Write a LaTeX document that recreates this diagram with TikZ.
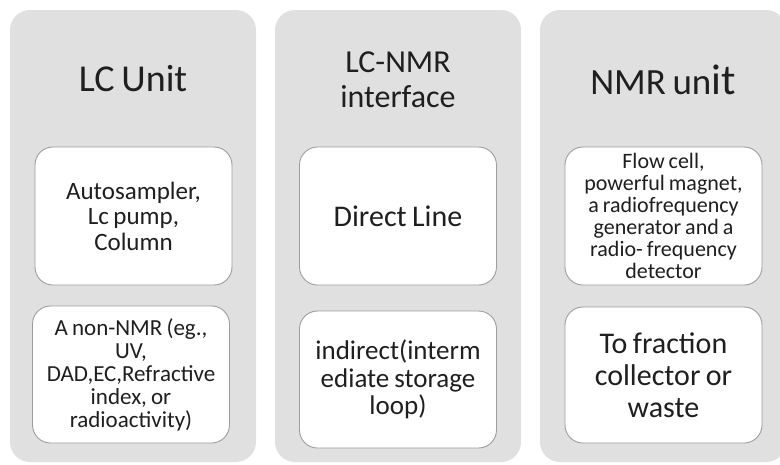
\documentclass[tikz,border=0pt]{standalone}
\usepackage{fontspec}
\setmainfont{Carlito}[WordSpace=0.8]
\usetikzlibrary{positioning}

\begin{document}
\begin{tikzpicture}
[x=1pt,y=-1pt,
  columndecorate/.style={shape=rectangle,rounded corners=20pt,fill=black!12,
    minimum width=246pt,minimum height=452pt,inner sep=0pt},%
  titledecorate/.style={align=center,text=black!88,
    font=\fontsize{38}{36}\selectfont},%
  boxdecorate/.style={shape=rectangle,rounded corners=18pt,fill=white,
    draw=black!38,line width=0.9pt,minimum width=197pt,inner sep=2pt,
    text width=190pt,align=flush center,text=black!88}]
\useasboundingbox (0,0) rectangle (780,464);
\clip (0,0) rectangle (780,464);
%% grey columns
\foreach \nodename/\x in {lccol/133, ifcol/398, nmrcol/663}
{
  \node (\nodename) at (\x,236) [columndecorate] {};
}
%% column titles
\node (lctitle) at (133,79) [titledecorate] {LC Unit};
\node (iftitle) at (398,80) [titledecorate,font=\fontsize{32}{35}\selectfont]
  {LC-NMR\\interface};
\node (nmrtitle) at (663,80) [titledecorate]
  {{\fontsize{37}{36}\selectfont NMR un}{\fontsize{43}{36}\selectfont it}};
%% upper boxes
\node (autosampler) at (133.5,216) [boxdecorate,minimum height=138pt,
  font=\fontsize{25}{25.5}\selectfont] {Autosampler,\\Lc pump,\\Column};
\node (direct) at (398,216) [boxdecorate,minimum height=138pt,
  font=\fontsize{30}{30}\selectfont] {Direct Line};
\node (flowcell) at (663.5,216) [boxdecorate,minimum height=138pt,
  font=\fontsize{22}{22}\selectfont]
  {Flow cell,\\powerful magnet,\\a radiofrequency\\generator and a\\radio- frequency\\detector};
%% lower boxes
\node (detector) at (131,374.5) [boxdecorate,minimum height=137pt,
  font=\fontsize{23}{23}\selectfont]
  {A non-NMR (eg.,\\UV,\\DAD,EC,Refractive\\index, or\\radioactivity)};
\node (indirect) at (398,379.5) [boxdecorate,minimum height=137pt,
  font=\fontsize{27}{27.5}\selectfont]
  {indirect(interm\\ediate storage\\loop)};
\node (fraction) at (663.5,375) [boxdecorate,minimum height=136pt,
  font=\fontsize{30}{32}\selectfont] {To fraction\\collector or\\waste};
\end{tikzpicture}
\end{document}
